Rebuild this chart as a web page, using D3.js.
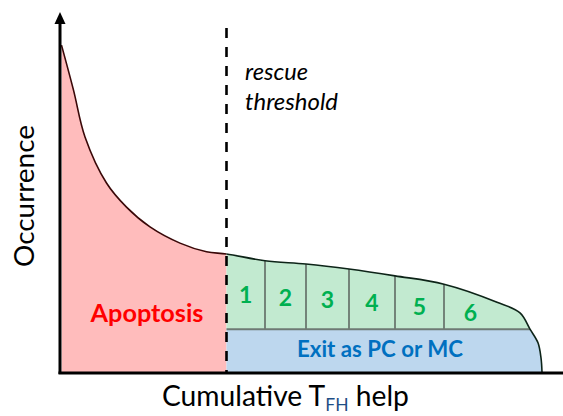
<!DOCTYPE html>
<html><head><meta charset="utf-8">
<script src="https://cdn.jsdelivr.net/npm/d3@7"></script>
<style>body{margin:0;background:#fff}svg{display:block}</style></head>
<body>
<svg id="c" width="563" height="416"></svg>
<script>
// ---- data (arbitrary units: x = cumulative TFH help, y = occurrence) ----
const curveX = [0.3, 2.7, 5, 9.3, 13.3, 18, 24, 29.3, 33.3, 41, 49.2, 57.8, 67, 76.8, 87.4, 92, 94, 95.6, 96.2, 96.4];
const curveY = [90.8, 78.3, 65.3, 52.5, 45.8, 40.3, 35.8, 33.4, 32.8, 30.9, 30, 28.6, 26.7, 24.4, 19.4, 16.4, 11.9, 8.1, 3.9, 0];
const threshold = 33.3;
const exitLevel = 11.9;
const binEdges = [33.3, 41, 49.2, 57.8, 67, 76.8, 87.4];
const binLabels = ["1", "2", "3", "4", "5", "6"];
const texts = {
  yTitle: "Occurrence",
  xTitle: "Cumulative T",
  xSub: "FH",
  xTail: " help",
  thr1: "rescue",
  thr2: "threshold",
  apoptosis: "Apoptosis",
  exit: "Exit as PC or MC"
};

const svg = d3.select("#c");
const x = d3.scaleLinear().domain([0, 100]).range([60, 560]);
const y = d3.scaleLinear().domain([0, 100]).range([372, 12]);
const pts = curveX.map((v, i) => [v, curveY[i]]);
const FONT = "Lato, 'Open Sans', sans-serif";

function curveAt(v) {
  for (let i = 0; i < curveX.length - 1; i++) {
    if (v >= curveX[i] && v <= curveX[i + 1]) {
      const t = (v - curveX[i]) / (curveX[i + 1] - curveX[i]);
      return curveY[i] + t * (curveY[i + 1] - curveY[i]);
    }
  }
  return 0;
}

const smooth = d3.curveCatmullRom.alpha(0.5);
const defs = svg.append("defs");
const lineGen = d3.line().x(d => x(d[0])).y(d => y(d[1])).curve(smooth);
const linePath = lineGen(pts);
const areaPath = linePath + `L${x(curveX[0])},${y(0)}Z`;

defs.append("clipPath").attr("id", "cl-under").append("path").attr("d", areaPath);
defs.append("clipPath").attr("id", "cl-left").append("rect")
  .attr("x", 0).attr("y", 0).attr("width", x(threshold)).attr("height", 416);
defs.append("clipPath").attr("id", "cl-green").append("rect")
  .attr("x", x(threshold)).attr("y", 0).attr("width", 563 - x(threshold)).attr("height", y(exitLevel));
defs.append("clipPath").attr("id", "cl-blue").append("rect")
  .attr("x", x(threshold)).attr("y", y(exitLevel)).attr("width", 563 - x(threshold)).attr("height", 416 - y(exitLevel));
defs.append("clipPath").attr("id", "cl-right").append("rect")
  .attr("x", x(threshold)).attr("y", 0).attr("width", 563 - x(threshold)).attr("height", 416);

const under = svg.append("g").attr("clip-path", "url(#cl-under)");
under.append("g").attr("clip-path", "url(#cl-left)")
  .append("path").attr("d", areaPath).attr("fill", "#ffbcbc");
under.append("g").attr("clip-path", "url(#cl-green)")
  .append("path").attr("d", areaPath).attr("fill", "#c2ead0");
under.append("g").attr("clip-path", "url(#cl-blue)")
  .append("path").attr("d", areaPath).attr("fill", "#bdd7ee");

// dividers & exit line
const inner = under.append("g");
inner.selectAll("line.div").data(binEdges.slice(1, -1)).join("line")
  .attr("x1", d => x(d)).attr("x2", d => x(d))
  .attr("y1", y(exitLevel)).attr("y2", 0)
  .attr("stroke", "#5f6a63").attr("stroke-width", 1.6);
inner.append("line")
  .attr("x1", x(threshold)).attr("x2", 563)
  .attr("y1", y(exitLevel)).attr("y2", y(exitLevel))
  .attr("stroke", "#6e7a74").attr("stroke-width", 2);

// curve stroke
svg.append("g").attr("clip-path", "url(#cl-left)")
  .append("path").attr("d", linePath).attr("fill", "none")
  .attr("stroke", "#3a0808").attr("stroke-width", 1.6);
svg.append("g").attr("clip-path", "url(#cl-right)")
  .append("path").attr("d", linePath).attr("fill", "none")
  .attr("stroke", "#0d2418").attr("stroke-width", 1.6);

// threshold dashed line
svg.append("line")
  .attr("x1", x(threshold)).attr("x2", x(threshold))
  .attr("y1", 28).attr("y2", y(0))
  .attr("stroke", "#000").attr("stroke-width", 2.6).attr("stroke-dasharray", "10,9");

// axes
svg.append("line").attr("x1", x(0)).attr("x2", x(0)).attr("y1", y(0) + 2).attr("y2", 20)
  .attr("stroke", "#000").attr("stroke-width", 3);
svg.append("line").attr("x1", x(0) - 1.5).attr("x2", 563).attr("y1", y(0) + 1).attr("y2", y(0) + 1)
  .attr("stroke", "#000").attr("stroke-width", 3);
svg.append("path")
  .attr("d", `M${x(0)},${y(100)} L${x(0) + 5.5},${y(100) + 12} L${x(0) - 5.5},${y(100) + 12} Z`)
  .attr("fill", "#000");

function fit(sel, w) {
  const cur = sel.node().getComputedTextLength();
  const fs = parseFloat(sel.attr("font-size"));
  sel.attr("font-size", fs * w / cur);
  return sel;
}

// bin labels
svg.selectAll("text.bin").data(binLabels).join("text")
  .attr("x", (d, i) => x((binEdges[i] + binEdges[i + 1]) / 2))
  .attr("y", (d, i) => {
    const c = (binEdges[i] + binEdges[i + 1]) / 2;
    return (y(curveAt(c)) + y(exitLevel)) / 2 + 10;
  })
  .attr("text-anchor", "middle").attr("font-family", FONT).attr("font-weight", "bold")
  .attr("font-size", 23).attr("fill", "#00b050").text(d => d);

// region labels
fit(svg.append("text").attr("x", 147).attr("y", 322).attr("text-anchor", "middle")
  .attr("font-family", FONT).attr("font-weight", "bold").attr("font-size", 24)
  .attr("fill", "#ff0000").text(texts.apoptosis), 113);
fit(svg.append("text").attr("x", 380).attr("y", 357).attr("text-anchor", "middle")
  .attr("font-family", FONT).attr("font-weight", "bold").attr("font-size", 20)
  .attr("fill", "#0070c0").text(texts.exit), 166);

// threshold text
fit(svg.append("text").attr("x", 245).attr("y", 80)
  .attr("font-family", FONT).attr("font-style", "italic").attr("font-size", 21)
  .attr("fill", "#000").text(texts.thr1), 63);
fit(svg.append("text").attr("x", 245).attr("y", 110)
  .attr("font-family", FONT).attr("font-style", "italic").attr("font-size", 21)
  .attr("fill", "#000").text(texts.thr2), 93);

// axis titles
fit(svg.append("text").attr("transform", "translate(34,196) rotate(-90)")
  .attr("text-anchor", "middle").attr("font-family", FONT).attr("font-size", 28)
  .attr("fill", "#000").text(texts.yTitle), 142);

const xt = svg.append("text").attr("x", 162).attr("y", 406)
  .attr("font-family", FONT).attr("font-size", 28).attr("fill", "#000");
xt.append("tspan").text(texts.xTitle);
xt.append("tspan").attr("font-size", "0.62em").attr("dy", 5).attr("fill", "#1f4f86").text(texts.xSub);
xt.append("tspan").attr("dy", -5).text(texts.xTail);
fit(xt, 247);
</script>
</body></html>
